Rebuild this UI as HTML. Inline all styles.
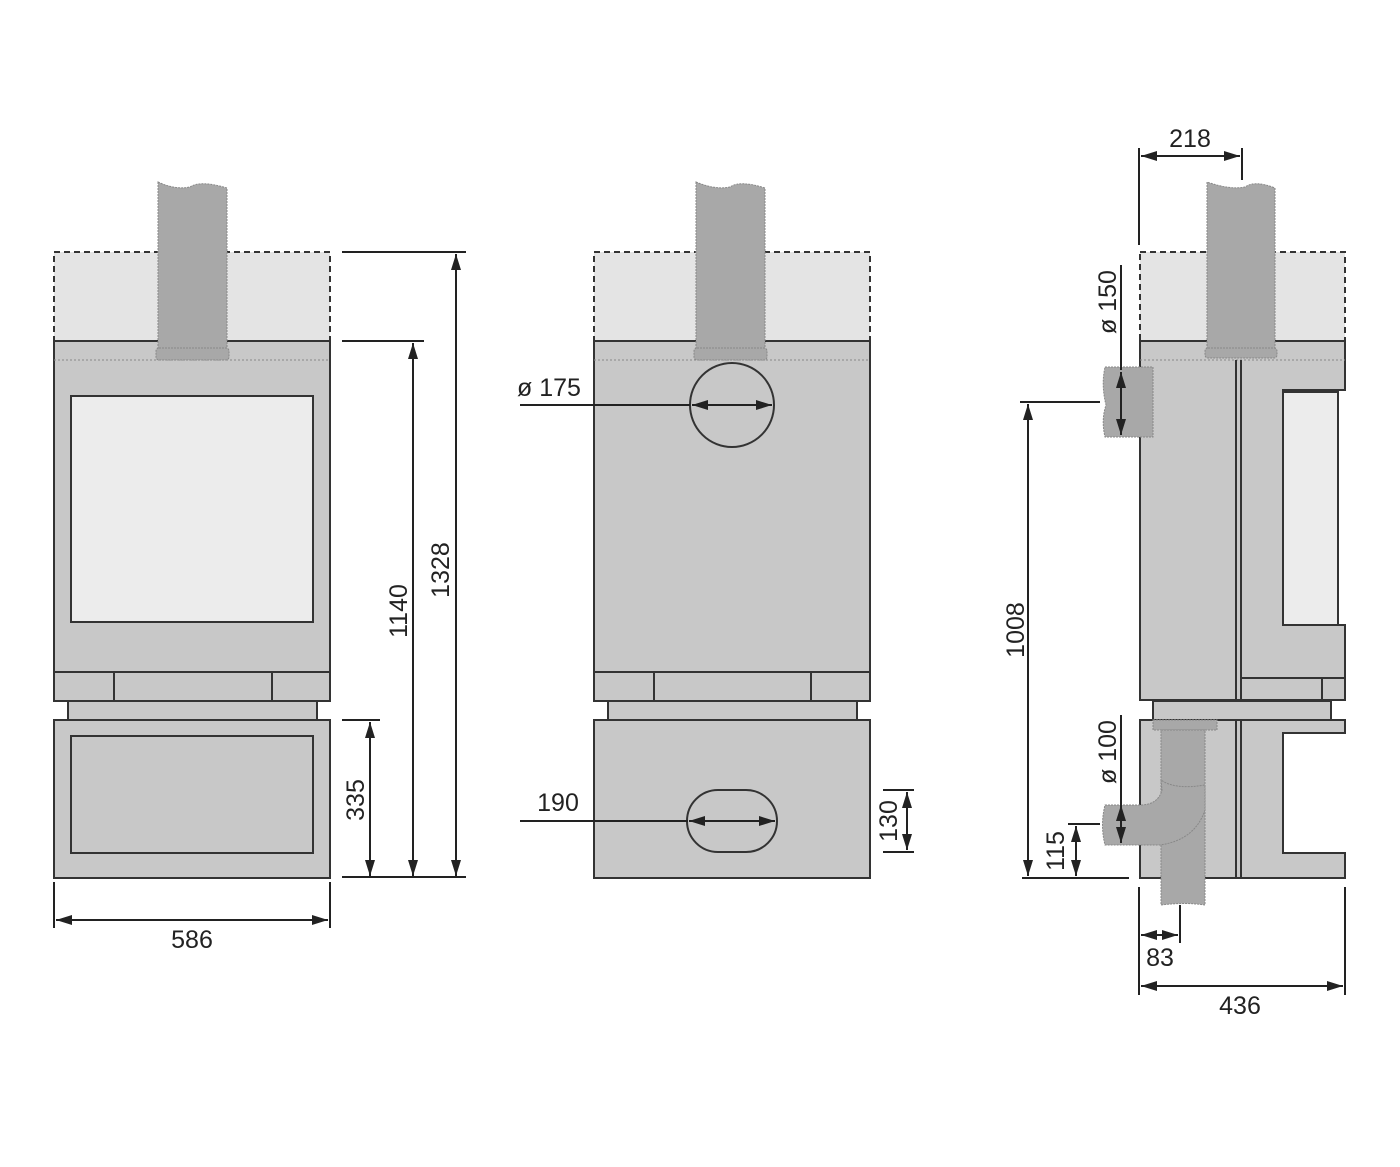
<!DOCTYPE html>
<html><head><meta charset="utf-8"><style>
html,body{margin:0;padding:0;background:#fff}
svg{display:block}
text{font-family:"Liberation Sans",sans-serif;font-size:25px;fill:#222}
</style></head><body>
<svg width="1400" height="1167" viewBox="0 0 1400 1167" xmlns="http://www.w3.org/2000/svg">
<defs>
<marker id="a" viewBox="0 0 16 10" refX="16" refY="5" markerWidth="16" markerHeight="10" orient="auto-start-reverse" markerUnits="userSpaceOnUse"><path d="M0,0 L16,5 L0,10 z" fill="#222"/></marker>
</defs>
<g stroke="#333" stroke-width="2">
<!-- LEFT VIEW -->
<rect x="54" y="252" width="276" height="89" fill="#e4e4e4" stroke-dasharray="6,4"/>
<rect x="54" y="341" width="276" height="331" fill="#c8c8c8"/>
<line x1="54" y1="360" x2="330" y2="360" stroke="#888" stroke-width="1" stroke-dasharray="2,2"/>
<rect x="71" y="396" width="242" height="226" fill="#ececec"/>
<rect x="54" y="672" width="276" height="29" fill="#c8c8c8"/>
<line x1="114" y1="672" x2="114" y2="701"/><line x1="272" y1="672" x2="272" y2="701"/>
<rect x="68" y="701" width="249" height="19" fill="#c8c8c8"/>
<rect x="54" y="720" width="276" height="158" fill="#c8c8c8"/>
<rect x="71" y="736" width="242" height="117" fill="#c8c8c8"/>
<path d="M158,182 L158,350 L227,350 L227,188 Q200,180 190,187 Q175,190 158,182z" fill="#a8a8a8" stroke="#888" stroke-width="1" stroke-dasharray="2,1"/>
<rect x="156" y="348" width="73" height="12" rx="3" fill="#a8a8a8" stroke="#888" stroke-width="1" stroke-dasharray="2,1"/>

<!-- MIDDLE VIEW -->
<rect x="594" y="252" width="276" height="89" fill="#e4e4e4" stroke-dasharray="6,4"/>
<rect x="594" y="341" width="276" height="331" fill="#c8c8c8"/>
<line x1="594" y1="360" x2="870" y2="360" stroke="#888" stroke-width="1" stroke-dasharray="2,2"/>
<rect x="594" y="672" width="276" height="29" fill="#c8c8c8"/>
<line x1="654" y1="672" x2="654" y2="701"/><line x1="811" y1="672" x2="811" y2="701"/>
<rect x="608" y="701" width="249" height="19" fill="#c8c8c8"/>
<rect x="594" y="720" width="276" height="158" fill="#c8c8c8"/>
<path d="M696,182 L696,350 L765,350 L765,188 Q740,180 730,187 Q715,190 696,182z" fill="#a8a8a8" stroke="#888" stroke-width="1" stroke-dasharray="2,1"/>
<rect x="694" y="348" width="73" height="12" rx="3" fill="#a8a8a8" stroke="#888" stroke-width="1" stroke-dasharray="2,1"/>
<circle cx="732" cy="405" r="42" fill="none"/>
<rect x="687" y="790" width="90" height="62" rx="31" fill="none"/>

<!-- RIGHT VIEW -->
<rect x="1140" y="252" width="205" height="89" fill="#e4e4e4" stroke-dasharray="6,4"/>
<path d="M1140,341 L1345,341 L1345,390 L1283,390 L1283,625 L1345,625 L1345,700 L1140,700 z" fill="#c8c8c8"/>
<rect x="1283" y="392" width="55" height="233" fill="#ececec"/>
<line x1="1140" y1="360" x2="1345" y2="360" stroke="#888" stroke-width="1" stroke-dasharray="2,2"/>
<line x1="1236" y1="360" x2="1236" y2="700"/><line x1="1241" y1="360" x2="1241" y2="700"/>
<line x1="1241" y1="678" x2="1345" y2="678"/><line x1="1322" y1="678" x2="1322" y2="700"/>
<rect x="1153" y="701" width="178" height="19" fill="#c8c8c8"/>
<path d="M1140,720 L1345,720 L1345,733 L1283,733 L1283,853 L1345,853 L1345,878 L1140,878 z" fill="#c8c8c8"/>
<line x1="1236" y1="720" x2="1236" y2="878"/><line x1="1241" y1="720" x2="1241" y2="878"/>
<path d="M1207,182 L1207,350 L1275,350 L1275,188 Q1255,180 1245,187 Q1230,190 1207,182z" fill="#a8a8a8" stroke="#888" stroke-width="1" stroke-dasharray="2,1"/>
<rect x="1205" y="348" width="72" height="10" rx="3" fill="#a8a8a8" stroke="#888" stroke-width="1" stroke-dasharray="2,1"/>
<path d="M1105,367 L1153,367 L1153,437 L1105,437 Q1101,420 1106,405 Q1101,385 1105,367z" fill="#a8a8a8" stroke="#888" stroke-width="1" stroke-dasharray="2,1"/>
<rect x="1153" y="720" width="64" height="10" fill="#a8a8a8" stroke="#888" stroke-width="1" stroke-dasharray="2,1"/>
<path d="M1161,730 L1205,730 L1205,905 Q1185,902 1161,905 z" fill="#a8a8a8" stroke="#888" stroke-width="1" stroke-dasharray="2,1"/>
<path d="M1105,805 L1140,805 Q1158,805 1162,790 L1161,780 Q1175,790 1205,785 L1205,810 Q1195,840 1160,845 L1105,845 Q1100,825 1105,805z" fill="#a8a8a8" stroke="#888" stroke-width="1" stroke-dasharray="2,1"/>
</g>

<!-- DIMENSIONS -->
<g stroke="#222" stroke-width="2" fill="none">
<line x1="342" y1="252" x2="466" y2="252"/>
<line x1="342" y1="341" x2="424" y2="341"/>
<line x1="342" y1="720" x2="380" y2="720"/>
<line x1="342" y1="877" x2="466" y2="877"/>
<line x1="456" y1="254" x2="456" y2="876" marker-start="url(#a)" marker-end="url(#a)"/>
<line x1="413" y1="343" x2="413" y2="876" marker-start="url(#a)" marker-end="url(#a)"/>
<line x1="370" y1="722" x2="370" y2="876" marker-start="url(#a)" marker-end="url(#a)"/>
<line x1="54" y1="882" x2="54" y2="928"/><line x1="330" y1="882" x2="330" y2="928"/>
<line x1="56" y1="920" x2="328" y2="920" marker-start="url(#a)" marker-end="url(#a)"/>
<line x1="520" y1="405" x2="690" y2="405"/>
<line x1="692" y1="405" x2="772" y2="405" marker-start="url(#a)" marker-end="url(#a)"/>
<line x1="520" y1="821" x2="688" y2="821"/>
<line x1="689" y1="821" x2="775" y2="821" marker-start="url(#a)" marker-end="url(#a)"/>
<line x1="883" y1="790" x2="914" y2="790"/><line x1="883" y1="852" x2="914" y2="852"/>
<line x1="907" y1="792" x2="907" y2="850" marker-start="url(#a)" marker-end="url(#a)"/>
<line x1="1139" y1="148" x2="1139" y2="245"/><line x1="1242" y1="148" x2="1242" y2="180"/>
<line x1="1141" y1="156" x2="1240" y2="156" marker-start="url(#a)" marker-end="url(#a)"/>
<line x1="1121" y1="265" x2="1121" y2="370"/>
<line x1="1121" y1="372" x2="1121" y2="435" marker-start="url(#a)" marker-end="url(#a)"/>
<line x1="1121" y1="715" x2="1121" y2="805"/>
<line x1="1121" y1="805" x2="1121" y2="843" marker-start="url(#a)" marker-end="url(#a)"/>
<line x1="1020" y1="402" x2="1100" y2="402"/>
<line x1="1022" y1="878" x2="1129" y2="878"/>
<line x1="1028" y1="404" x2="1028" y2="876" marker-start="url(#a)" marker-end="url(#a)"/>
<line x1="1068" y1="824" x2="1100" y2="824"/>
<line x1="1076" y1="826" x2="1076" y2="876" marker-start="url(#a)" marker-end="url(#a)"/>
<line x1="1139" y1="887" x2="1139" y2="995"/><line x1="1345" y1="887" x2="1345" y2="995"/>
<line x1="1180" y1="905" x2="1180" y2="943"/>
<line x1="1141" y1="935" x2="1178" y2="935" marker-start="url(#a)" marker-end="url(#a)"/>
<line x1="1141" y1="986" x2="1343" y2="986" marker-start="url(#a)" marker-end="url(#a)"/>
</g>

<g>
<text x="192" y="948" text-anchor="middle">586</text>
<text transform="translate(449,570) rotate(-90)" text-anchor="middle">1328</text>
<text transform="translate(407,611) rotate(-90)" text-anchor="middle">1140</text>
<text transform="translate(364,800) rotate(-90)" text-anchor="middle">335</text>
<text x="517" y="396">ø 175</text>
<text x="558" y="811" text-anchor="middle">190</text>
<text transform="translate(897,821) rotate(-90)" text-anchor="middle">130</text>
<text x="1190" y="147" text-anchor="middle">218</text>
<text transform="translate(1116,302) rotate(-90)" text-anchor="middle">ø 150</text>
<text transform="translate(1116,752) rotate(-90)" text-anchor="middle">ø 100</text>
<text transform="translate(1024,630) rotate(-90)" text-anchor="middle">1008</text>
<text transform="translate(1064,851) rotate(-90)" text-anchor="middle">115</text>
<text x="1160" y="966" text-anchor="middle">83</text>
<text x="1240" y="1014" text-anchor="middle">436</text>
</g>
</svg>
</body></html>
